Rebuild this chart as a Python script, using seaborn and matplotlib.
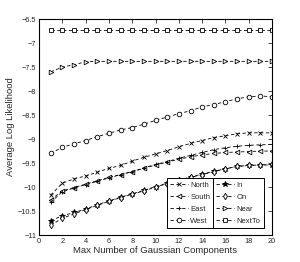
import numpy as np
import pandas as pd
import matplotlib
matplotlib.use("Agg")
import matplotlib.pyplot as plt
import seaborn as sns
from matplotlib.lines import Line2D
from matplotlib import font_manager

# data
components = list(range(1, 21))
north = [-10.17, -9.92, -9.83, -9.77, -9.69, -9.61, -9.55, -9.46, -9.38, -9.31,
         -9.24, -9.16, -9.09, -9.03, -8.97, -8.93, -8.89, -8.87, -8.87, -8.87]
south = [-10.27, -10.08, -10.01, -9.94, -9.87, -9.80, -9.74, -9.68, -9.61, -9.54,
         -9.48, -9.42, -9.37, -9.33, -9.30, -9.28, -9.27, -9.26, -9.25, -9.25]
east = [-10.32, -10.10, -10.02, -9.95, -9.88, -9.81, -9.74, -9.68, -9.60, -9.53,
        -9.47, -9.40, -9.34, -9.28, -9.22, -9.18, -9.15, -9.13, -9.12, -9.11]
west = [-9.30, -9.17, -9.10, -9.03, -8.95, -8.88, -8.81, -8.76, -8.69, -8.61,
        -8.54, -8.47, -8.41, -8.33, -8.28, -8.22, -8.16, -8.12, -8.10, -8.12]
in_ = [-10.70, -10.60, -10.53, -10.46, -10.37, -10.29, -10.21, -10.14, -10.07, -9.99,
       -9.92, -9.86, -9.79, -9.73, -9.67, -9.62, -9.57, -9.55, -9.54, -9.54]
on = [-10.80, -10.65, -10.56, -10.47, -10.38, -10.30, -10.22, -10.15, -10.08, -10.00,
      -9.93, -9.86, -9.80, -9.74, -9.68, -9.62, -9.57, -9.55, -9.54, -9.53]
near = [-7.60, -7.50, -7.45, -7.39, -7.38, -7.38, -7.38, -7.38, -7.38, -7.38,
        -7.38, -7.38, -7.38, -7.38, -7.38, -7.38, -7.38, -7.38, -7.38, -7.38]
nextto = [-6.72] * 20

series_names = ["North", "South", "East", "West", "In", "On", "Near", "NextTo"]
series_vals = [north, south, east, west, in_, on, near, nextto]
markers = ["x", "<", "+", "o", "*", "d", ">", "s"]

sns.set_style("white")
# narrow Helvetica-like face if present, like the MATLAB export
installed = {f.name for f in font_manager.fontManager.ttflist}
if "Liberation Sans Narrow" in installed:
    plt.rcParams["font.family"] = ["Liberation Sans Narrow", "DejaVu Sans"]
    lab_size, tick_size, leg_size = 7.8, 6, 6
else:
    plt.rcParams["font.family"] = ["Liberation Sans", "DejaVu Sans"]
    lab_size, tick_size, leg_size = 6.8, 5.3, 5.5

fig = plt.figure(figsize=(3.0, 2.62), dpi=100)
ax = fig.add_axes([0.13, 0.103, 0.777, 0.824])

for name, vals, mk in zip(series_names, series_vals, markers):
    df = pd.DataFrame({"k": components, "ll": vals})
    filled = mk in ("x", "+", "*")
    sns.lineplot(data=df, x="k", y="ll", ax=ax, color="black", linewidth=0.6,
                 linestyle=(0, (4, 3)), marker=mk, markersize=3.3 if mk != "*" else 4,
                 markerfacecolor="black" if filled else "white",
                 markeredgecolor="black", markeredgewidth=0.6, label=name)

ax.set_xlim(0, 20)
ax.set_ylim(-11, -6.5)
ax.set_xticks(np.arange(0, 21, 2))
ax.set_yticks(np.arange(-11, -6.49, 0.5))
ax.set_yticklabels([("%g" % v).replace("-", "\u2212") for v in np.arange(-11, -6.49, 0.5)])
ax.tick_params(direction="in", top=True, right=True, length=3, width=0.6,
               labelsize=tick_size, pad=2)
for s in ax.spines.values():
    s.set_color("black")
    s.set_linewidth(0.8)
ax.set_xlabel("Max Number of Gaussian Components", fontsize=lab_size, labelpad=1)
ax.set_ylabel("Average Log Likelihood", fontsize=lab_size, labelpad=2)

leg = ax.legend(ncol=2, loc="lower right", bbox_to_anchor=(0.98, 0.015),
                fontsize=leg_size, frameon=True, fancybox=False, edgecolor="black",
                handlelength=2.3, handletextpad=0.3, columnspacing=0.8,
                labelspacing=0.6, borderpad=0.45, framealpha=1)
leg.get_frame().set_linewidth(0.7)

# vertical separator between the two legend columns
fig.canvas.draw()
texts = leg.get_texts()
x_right = max(t.get_window_extent().x1 for t in texts[:4])
bb = leg.get_window_extent()
inv = fig.transFigure.inverted()
x0, y0 = inv.transform((x_right + 3, bb.y0))
_, y1 = inv.transform((x_right + 3, bb.y1))
fig.add_artist(Line2D([x0, x0], [y0, y1], transform=fig.transFigure,
                      color="black", linewidth=0.7))

fig.savefig("out.png", dpi=100)
